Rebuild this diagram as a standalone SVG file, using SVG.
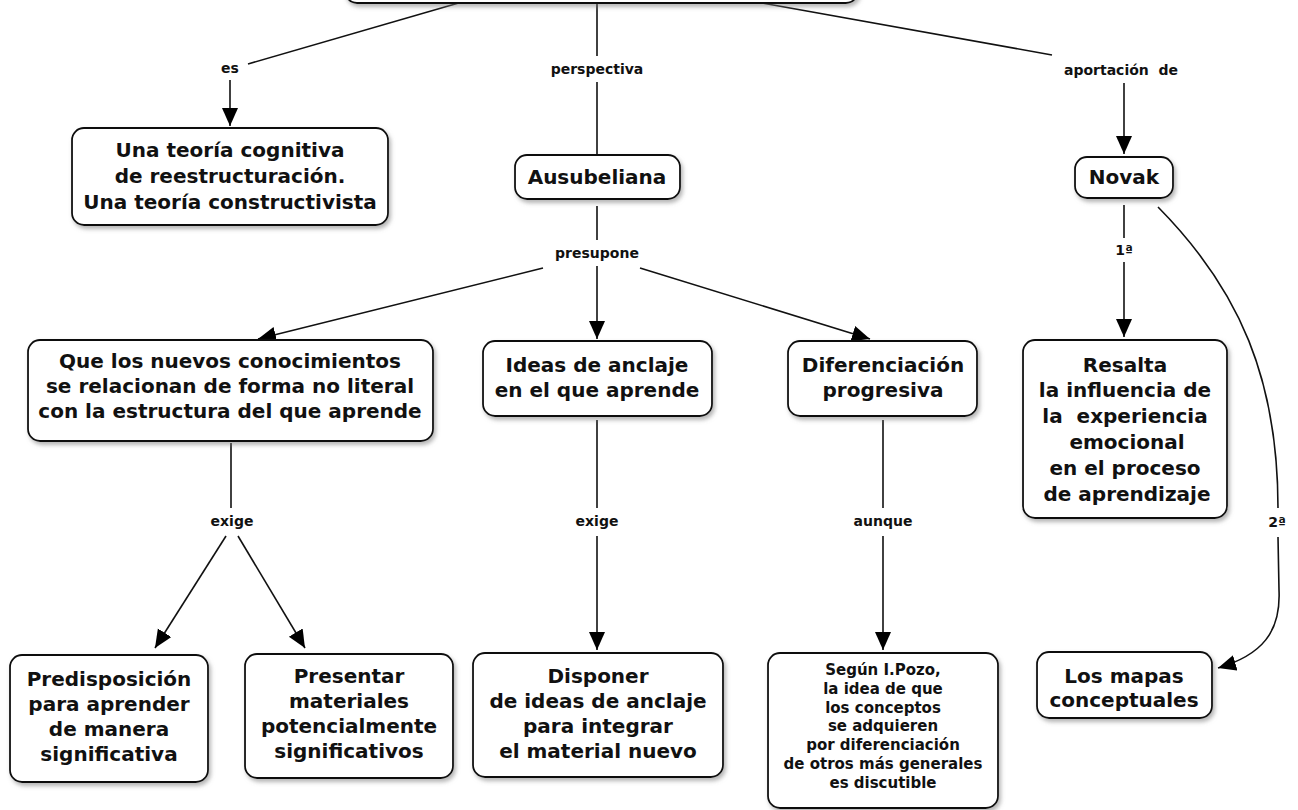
<svg xmlns="http://www.w3.org/2000/svg" width="1298" height="810" viewBox="0 0 1298 810">
<defs>
<filter id="sh" x="-10%" y="-10%" width="120%" height="130%">
<feDropShadow dx="2" dy="3" stdDeviation="2" flood-color="#777" flood-opacity="0.55"/>
</filter>
<marker id="ah" markerUnits="userSpaceOnUse" markerWidth="20" markerHeight="20" refX="18" refY="8" orient="auto">
<path d="M0,0 L18,8 L0,16 Z" fill="#000"/>
</marker>
</defs>
<style>
.box{fill:#fff;stroke:#111;stroke-width:1.8;filter:url(#sh)}
.t{font-family:"DejaVu Sans",Verdana,sans-serif;font-weight:bold;font-size:20px;fill:#111;text-anchor:middle;white-space:pre}
.s{font-size:15px}
.lb{font-family:"DejaVu Sans",Verdana,sans-serif;font-weight:bold;font-size:14px;fill:#111;text-anchor:middle;white-space:pre}
.c{fill:none;stroke:#111;stroke-width:1.6}
.a{marker-end:url(#ah)}
</style>
<rect width="1298" height="810" fill="#fff"/>

<g id="connectors">
<line class="c" x1="462" y1="2" x2="248" y2="64"/>
<line class="c a" x1="230" y1="80" x2="230" y2="126"/>
<line class="c" x1="597" y1="2" x2="597" y2="56"/>
<line class="c" x1="597" y1="82" x2="597" y2="155"/>
<line class="c" x1="762" y1="3" x2="1052" y2="55"/>
<line class="c a" x1="1124" y1="83" x2="1124" y2="154"/>
<line class="c" x1="597" y1="206" x2="597" y2="240"/>
<line class="c a" x1="543" y1="268" x2="258" y2="339"/>
<line class="c a" x1="597" y1="266" x2="597" y2="339"/>
<line class="c a" x1="640" y1="268" x2="870" y2="339"/>
<line class="c" x1="1124" y1="205" x2="1124" y2="238"/>
<line class="c a" x1="1124" y1="262" x2="1124" y2="337"/>
<path class="c" d="M1158,207 C1240,290 1278,380 1278,508"/>
<path class="c a" d="M1278,537 L1279,590 C1281,632 1262,655 1218,668"/>
<line class="c" x1="231" y1="443" x2="231" y2="508"/>
<line class="c a" x1="226" y1="536" x2="155" y2="648"/>
<line class="c a" x1="238" y1="536" x2="305" y2="648"/>
<line class="c" x1="597" y1="420" x2="597" y2="508"/>
<line class="c a" x1="597" y1="536" x2="597" y2="650"/>
<line class="c" x1="883" y1="420" x2="883" y2="508"/>
<line class="c a" x1="883" y1="536" x2="883" y2="650"/>
</g>

<g id="labels">
<text class="lb" x="230" y="73">es</text>
<text class="lb" x="597" y="74">perspectiva</text>
<text class="lb" x="1121" y="75">aportación  de</text>
<text class="lb" x="597" y="258">presupone</text>
<text class="lb" x="1124" y="255">1ª</text>
<text class="lb" x="1277" y="527">2ª</text>
<text class="lb" x="232" y="526">exige</text>
<text class="lb" x="597" y="526">exige</text>
<text class="lb" x="883" y="526">aunque</text>
</g>

<g id="node-top">
<rect class="box" x="345" y="-45" width="513" height="48" rx="12"/>
</g>

<g id="node-teoria">
<rect class="box" x="72" y="128" width="316" height="97" rx="12"/>
<text class="t" x="230" y="157">Una teoría cognitiva</text>
<text class="t" x="230" y="183">de reestructuración.</text>
<text class="t" x="230" y="209">Una teoría constructivista</text>
</g>

<g id="node-ausubeliana">
<rect class="box" x="515" y="155" width="165" height="44" rx="12"/>
<text class="t" x="597" y="184">Ausubeliana</text>
</g>

<g id="node-novak">
<rect class="box" x="1075" y="157" width="98" height="41" rx="12"/>
<text class="t" x="1124" y="184">Novak</text>
</g>

<g id="node-nuevos">
<rect class="box" x="28" y="340" width="405" height="101" rx="12"/>
<text class="t" x="230" y="368">Que los nuevos conocimientos</text>
<text class="t" x="230" y="393">se relacionan de forma no literal</text>
<text class="t" x="230" y="418">con la estructura del que aprende</text>
</g>

<g id="node-ideas">
<rect class="box" x="483" y="341" width="229" height="75" rx="12"/>
<text class="t" x="597" y="372">Ideas de anclaje</text>
<text class="t" x="597" y="397">en el que aprende</text>
</g>

<g id="node-diferenciacion">
<rect class="box" x="788" y="341" width="189" height="75" rx="12"/>
<text class="t" x="883" y="372">Diferenciación</text>
<text class="t" x="883" y="397">progresiva</text>
</g>

<g id="node-resalta">
<rect class="box" x="1023" y="340" width="204" height="178" rx="12"/>
<text class="t" x="1125" y="372">Resalta</text>
<text class="t" x="1125" y="397">la influencia de</text>
<text class="t" x="1125" y="423">la  experiencia</text>
<text class="t" x="1127" y="449">emocional</text>
<text class="t" x="1125" y="475">en el proceso</text>
<text class="t" x="1127" y="501">de aprendizaje</text>
</g>

<g id="node-predisposicion">
<rect class="box" x="10" y="655" width="198" height="127" rx="12"/>
<text class="t" x="109" y="686">Predisposición</text>
<text class="t" x="109" y="711">para aprender</text>
<text class="t" x="109" y="736">de manera</text>
<text class="t" x="109" y="761">significativa</text>
</g>

<g id="node-presentar">
<rect class="box" x="245" y="654" width="208" height="124" rx="12"/>
<text class="t" x="349" y="683">Presentar</text>
<text class="t" x="349" y="708">materiales</text>
<text class="t" x="349" y="733">potencialmente</text>
<text class="t" x="349" y="758">significativos</text>
</g>

<g id="node-disponer">
<rect class="box" x="473" y="653" width="250" height="124" rx="12"/>
<text class="t" x="598" y="683">Disponer</text>
<text class="t" x="598" y="708">de ideas de anclaje</text>
<text class="t" x="598" y="733">para integrar</text>
<text class="t" x="598" y="758">el material nuevo</text>
</g>

<g id="node-segun">
<rect class="box" x="768" y="653" width="230" height="155" rx="12"/>
<text class="t s" x="883" y="675">Según I.Pozo,</text>
<text class="t s" x="883" y="694">la idea de que</text>
<text class="t s" x="883" y="713">los conceptos</text>
<text class="t s" x="883" y="731">se adquieren</text>
<text class="t s" x="883" y="750">por diferenciación</text>
<text class="t s" x="883" y="769">de otros más generales</text>
<text class="t s" x="883" y="788">es discutible</text>
</g>

<g id="node-mapas">
<rect class="box" x="1037" y="652" width="175" height="66" rx="12"/>
<text class="t" x="1124" y="683">Los mapas</text>
<text class="t" x="1124" y="707">conceptuales</text>
</g>
</svg>
